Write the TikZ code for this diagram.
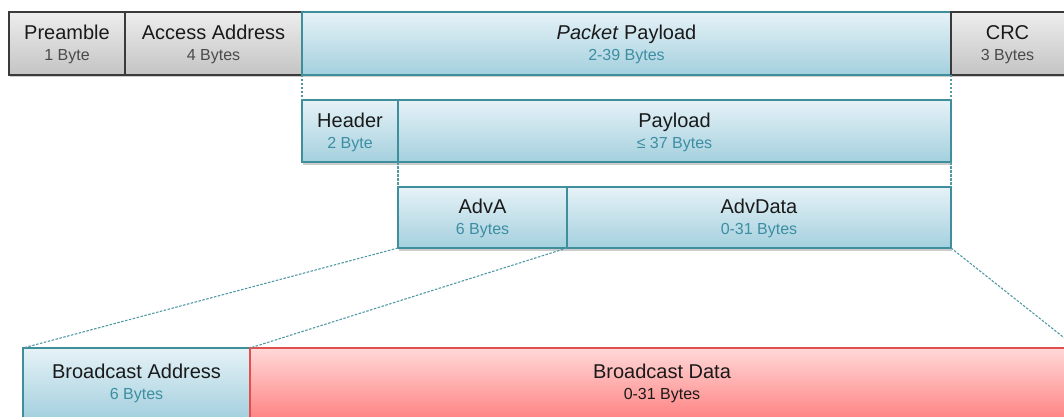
\documentclass[tikz,border=0pt]{standalone}
\usepackage{fontspec}
\setmainfont{Liberation Sans}
\usetikzlibrary{shadows}
\definecolor{grayTop}{HTML}{EDEDED}
\definecolor{grayBot}{HTML}{C4C4C4}
\definecolor{grayLine}{HTML}{3A3A3A}
\definecolor{blueTop}{HTML}{E6F2F7}
\definecolor{blueBot}{HTML}{A4D0DE}
\definecolor{blueLine}{HTML}{3F8E9C}
\definecolor{redTop}{HTML}{FFD8D8}
\definecolor{redBot}{HTML}{FF8484}
\definecolor{redLine}{HTML}{E0504F}
\definecolor{tealText}{HTML}{3D8EA3}
\definecolor{graySub}{HTML}{4A4A4A}
\definecolor{titleText}{HTML}{1A1A1A}
\newcommand{\subfont}{\fontsize{16}{21}\selectfont}
\tikzset{
  fieldbox/.style={rectangle, inner sep=0pt, outer sep=0pt, line width=1.3pt,
    align=center, text=titleText, font=\fontsize{20}{21}\selectfont,
    drop shadow={opacity=0.4, shadow xshift=1pt, shadow yshift=-2.5pt}},
  graybox/.style={fieldbox, draw=grayLine, top color=grayTop, bottom color=grayBot},
  bluebox/.style={fieldbox, draw=blueLine, top color=blueTop, bottom color=blueBot},
  redbox/.style={fieldbox, draw=redLine, top color=redTop, bottom color=redBot},
  guide/.style={draw=blueLine!90, line width=1.1pt, dash pattern=on 2.5pt off 1.5pt},
  txt/.style={yshift=-1.4pt, align=center, font=\fontsize{20}{21}\selectfont, text=titleText}
}
\begin{document}
\begin{tikzpicture}[x=1pt,y=-1pt]
\useasboundingbox (0,0) rectangle (1064,417);
\clip (0,0) rectangle (1064,417);
% row 1
\node[graybox, minimum width=116pt, minimum height=63pt] (pre) at (67,43.5) {};
\node[txt] (preT) at (pre) {Preamble\\{\subfont\color{graySub}1 Byte}};
\node[graybox, minimum width=177pt, minimum height=63pt] (acc) at (213.5,43.5) {};
\node[txt] (accT) at (acc) {Access Address\\{\subfont\color{graySub}4 Bytes}};
\node[bluebox, minimum width=649pt, minimum height=63pt] (pay) at (626.5,43.5) {};
\node[txt] (payT) at (pay) {\textit{Packet} Payload\\{\subfont\color{tealText}2-39 Bytes}};
\node[graybox, minimum width=114pt, minimum height=63pt] (crc) at (1008,43.5) {};
\node[txt] (crcT) at (1007.5,43.5) {CRC\\{\subfont\color{graySub}3 Bytes}};
% row 2
\node[bluebox, minimum width=96pt, minimum height=62pt] (hdr) at (350,131) {};
\node[txt] (hdrT) at (hdr) {Header\\{\subfont\color{tealText}2 Byte}};
\node[bluebox, minimum width=553pt, minimum height=62pt] (pl) at (674.5,131) {};
\node[txt] (plT) at (pl) {Payload\\{\subfont\color{tealText}≤ 37 Bytes}};
% row 3
\node[bluebox, minimum width=169pt, minimum height=61pt] (adva) at (482.5,217.5) {};
\node[txt] (advaT) at (adva) {AdvA\\{\subfont\color{tealText}6 Bytes}};
\node[bluebox, minimum width=384pt, minimum height=61pt] (advd) at (759,217.5) {};
\node[txt] (advdT) at (advd) {AdvData\\{\subfont\color{tealText}0-31 Bytes}};
% row 4
\node[bluebox, minimum width=227pt, minimum height=70pt] (baddr) at (136.5,383) {};
\node[txt] (baddrT) at (136.5,382.5) {Broadcast Address\\{\subfont\color{tealText}6 Bytes}};
\node[redbox, minimum width=827pt, minimum height=70pt] (bdata) at (663.5,383) {};
\node[txt] (bdataT) at (662,382.5) {Broadcast Data\\{\subfont\color{titleText}0-31 Bytes}};
% guides
\draw[guide] (pay.south west) -- (hdr.north west);
\draw[guide] (pay.south east) -- (pl.north east);
\draw[guide] (pl.south west) -- (adva.north west);
\draw[guide] (pl.south east) -- (advd.north east);
\draw[guide] (adva.south west) -- (baddr.north west);
\draw[guide] (adva.south east) -- (bdata.north west);
\draw[guide] (advd.south east) -- (bdata.north east);
\end{tikzpicture}
\end{document}
